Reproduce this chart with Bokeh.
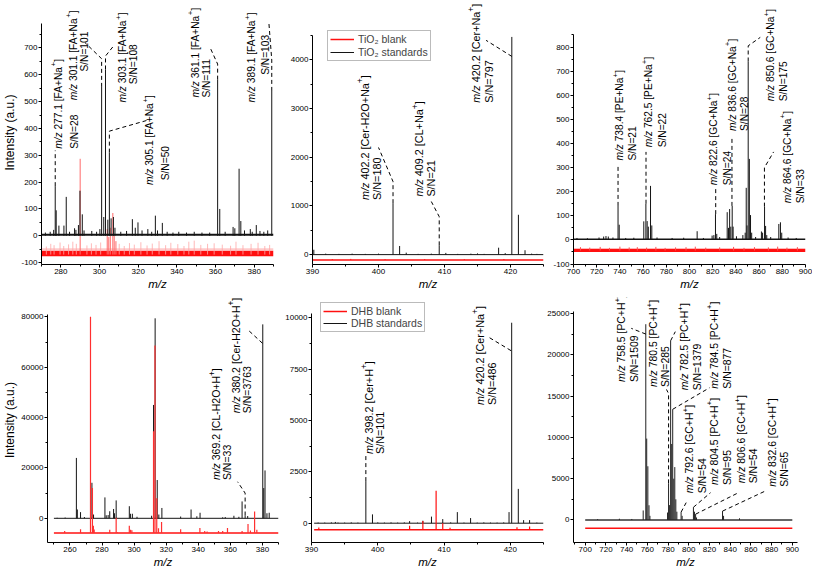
from bokeh.plotting import figure
from bokeh.models import Label, FixedTicker, Legend, LegendItem, NumeralTickFormatter, Range1d
from bokeh.layouts import row, column
from bokeh.embed import file_html
from bokeh.resources import INLINE

FONT = "Liberation Sans"
BLACK = "#141414"
RED = "#ff1010"
PINK = "#ffa8a8"

# ======================= DATA =======================
# ---- (A) TiO2, panel 1: m/z 270-390 ----
a1_span = [270, 390]
a1_mz = [272.0, 274.5, 276.3, 277.1, 277.6, 279.0, 281.6, 282.8, 284.5, 287.1, 287.8, 289.1, 289.9,
         291.1, 292.0, 296.0, 298.5, 300.2, 301.1, 302.2, 303.1, 304.3, 305.1, 306.0, 307.2, 308.0,
         311.0, 314.0, 317.0, 318.5, 319.9, 322.0, 325.0, 327.0, 328.9, 330.0, 332.5, 335.0, 338.0,
         341.0, 345.0, 349.0, 353.0, 357.0, 361.1, 362.2, 365.0, 369.1, 370.0, 372.2, 373.1, 375.0,
         378.0, 379.0, 381.1, 383.0, 385.0, 387.0, 389.1]
a1_int = [12, 15, 22, 185, 95, 38, 38, 145, 15, 28, 22, 40, 168, 80, 20, 18, 15, 25, 555, 70, 620,
          60, 310, 65, 70, 30, 15, 18, 62, 30, 50, 20, 25, 15, 75, 20, 48, 15, 12, 15, 12, 15, 12, 12,
          582, 100, 15, 33, 28, 250, 55, 20, 25, 15, 40, 18, 15, 20, 540]
a1_noise_top = 8
a1_red_band = [-76, -56]
a1_pink_band = [-56, -46]
a1_red_base = -70
a1_red_mz = [290.0, 304.0, 304.8, 305.6, 306.9, 307.6, 308.5]
a1_red_top = [287, 25, -5, 30, 85, 0, -20]
a1_pink_mz = [272.5, 274.8, 276.5, 279.6, 281.5, 284.0, 286.2, 288.0, 293.5, 295.8, 298.2, 300.6,
              310.2, 312.8, 315.5, 318.0, 321.4, 324.6, 327.3, 330.8, 334.2, 336.9, 340.5, 343.7,
              346.2, 349.0, 352.4, 355.9, 359.3, 363.5, 367.8, 370.6, 374.2, 378.4, 382.0, 385.5, 388.0]
a1_pink_top = [-40, -30, -35, -25, -38, -32, -22, -30, -36, -28, -34, -25, -30, -38, -27, -33, -24,
               -36, -29, -20, -35, -26, -31, -38, -22, -18, -34, -30, -28, -33, -37, -22, -35, -30,
               -26, -38, -34]
a1_ann_mz = [277.1, 301.1, 303.1, 305.1, 361.1, 389.1]
a1_ann_ion = ["FA+Na", "FA+Na", "FA+Na", "FA+Na", "FA+Na", "FA+Na"]
a1_ann_sn = ["28", "101", "108", "50", "111", "103"]

# ---- (A) TiO2, panel 2: m/z 390-425 ----
a2_span = [390, 425]
a2_mz = [390.2, 392.0, 394.0, 396.0, 398.0, 400.0, 402.2, 403.2, 404.2, 406.0, 408.0, 409.2, 410.2,
         412.0, 414.0, 415.0, 416.0, 418.2, 419.2, 420.2, 421.2, 422.2, 423.2, 424.0]
a2_int = [100, 20, 15, 20, 15, 20, 1056, 177, 40, 15, 20, 190, 35, 15, 20, 25, 15, 142, 30, 4470,
          818, 90, 20, 15]
a2_red_base = -110
a2_red_mz = [393.0, 395.8, 401.0, 407.0, 413.0, 419.0]
a2_red_top = [-92, -88, -95, -92, -94, -90]
a2_ann_mz = [402.2, 409.2, 420.2]
a2_ann_ion = ["Cer-H2O+Na", "CL+Na", "Cer+Na"]
a2_ann_sn = ["180", "21", "797"]

# ---- (A) TiO2, panel 3: m/z 700-900 ----
a3_span = [700, 900]
a3_mz = [703, 712, 722, 726, 728, 730, 734, 738.4, 739.4, 745, 752, 760.6, 762.4, 763.5, 764.5,
         766.4, 767.5, 772, 785, 795, 806.6, 812, 819.5, 821, 822.4, 823.5, 826, 832.5, 833.6,
         834.6, 835.6, 836.8, 837.6, 840.5, 846, 848, 848.9, 849.6, 850.6, 851.6, 852.6, 853.6,
         857, 862, 863, 864.7, 865.6, 866.6, 870, 877, 878.4, 879.5, 885, 892]
a3_int = [8, 7, 10, 14, 16, 14, 10, 141, 63, 8, 9, 77, 150, 78, 55, 224, 60, 10, 8, 9, 36, 8, 18,
          20, 107, 25, 12, 115, 50, 128, 55, 141, 55, 15, 20, 30, 216, 60, 740, 336, 103, 30, 12,
          35, 30, 138, 58, 20, 12, 66, 73, 30, 10, 8]
a3_noise_top = 6
a3_red_band = [-50, -38]
a3_pink_band = [-38, -34]
a3_red_base = -44
a3_pink_mz = [706, 714, 723, 731, 740, 748, 755, 763, 771, 779, 788, 797, 805, 814, 826, 838,
              847, 856, 868, 876, 884, 893]
a3_pink_top = [-30, -32, -29, -33, -28, -31, -30, -32, -29, -33, -31, -30, -28, -32, -31, -29,
               -33, -30, -31, -28, -32, -30]
a3_ann_mz = [738.4, 762.5, 822.6, 836.6, 850.6, 864.6]
a3_ann_ion = ["PE+Na", "PE+Na", "GC+Na", "GC+Na", "GC+Na", "GC+Na"]
a3_ann_sn = ["21", "22", "24", "28", "175", "33"]

# ---- (B) DHB, panel 1: m/z 250-390 ----
b1_span = [250, 390]
b1_mz = [252.0, 257.0, 264.0, 264.6, 266.6, 269.0, 273.7, 274.7, 281.8, 282.6, 283.8, 284.8, 287.2,
         287.8, 288.8, 297.0, 297.7, 298.9, 301.8, 310.9, 312.1, 313.1, 314.4, 315.4, 317.3, 329.0,
         335.5, 339.1, 341.1, 355.2, 356.8, 362.2, 365.3, 367.3, 369.2, 370.8, 380.2, 380.8, 381.6,
         382.8, 384.2]
b1_int = [200, 300, 23970, 3500, 2450, 500, 14100, 1500, 8300, 1200, 1300, 2800, 3700, 2000, 7100,
          4800, 1800, 1800, 600, 1000, 45000, 79400, 15200, 1500, 4100, 700, 3500, 800, 2200, 400,
          500, 1000, 600, 6700, 1100, 900, 77000, 12000, 19000, 2000, 2200]
b1_red_base = -5800
b1_red_mz = [256.7, 266.6, 272.8, 274.0, 274.6, 275.1, 284.8, 288.8, 289.6, 297.0, 297.8, 298.6,
             312.1, 313.0, 314.1, 315.2, 317.1, 329.0, 341.0, 344.0, 345.5, 352.6, 355.2, 358.2,
             367.3, 371.0, 372.5, 375.1, 376.5]
b1_red_top = [-5000, -4300, 80000, 12000, -3000, -4400, -4500, 230, -5500, -3000, -4500, -4700,
              34600, 68600, 8000, -4000, -1500, -4300, -3900, -5000, -5200, -5000, -5000, -3900,
              -5000, -2300, -4800, 2700, -4500]
b1_ann_mz = [369.2, 380.2]
b1_ann_ion = ["CL-H2O+H", "Cer-H2O+H"]
b1_ann_sn = ["33", "3763"]

# ---- (B) DHB, panel 2: m/z 390-425 ----
b2_span = [390.4, 425]
b2_mz = [391.0, 392.0, 393.0, 393.6, 394.0, 395.0, 396.0, 397.0, 398.2, 399.2, 400.0, 401.0, 402.0,
         403.0, 404.0, 404.8, 406.0, 406.8, 408.1, 409.8, 411.0, 412.0, 413.0, 414.0, 415.0, 416.0,
         417.0, 418.0, 419.0, 419.8, 420.2, 421.2, 422.0, 422.9, 424.0]
b2_int = [30, 30, 40, 60, 30, 30, 40, 30, 2050, 430, 40, 30, 40, 30, 40, 100, 30, 120, 320, 200,
          40, 540, 30, 250, 30, 40, 30, 30, 40, 540, 9760, 1670, 150, 150, 30]
b2_red_base = -320
b2_red_mz = [391.1, 404.8, 406.8, 408.8, 409.8, 410.9, 421.0, 422.9]
b2_red_top = [-210, -130, 110, 1575, 0, -220, -200, -160]
b2_ann_mz = [398.2, 420.2]
b2_ann_ion = ["Cer+H", "Cer+Na"]
b2_ann_sn = ["101", "486"]

# ---- (B) DHB, panel 3: m/z 700-900 ----
b3_span = [700, 900]
b3_mz = [712, 733, 745, 756.0, 758.5, 759.4, 760.5, 761.6, 762.5, 779.5, 780.5, 781.5, 782.5, 783.5,
         784.5, 785.5, 786.5, 787.5, 788.5, 792.6, 793.6, 804.5, 805.5, 806.6, 807.5, 832.6, 833.6,
         849.0]
b3_int = [100, 150, 120, 1150, 23700, 9850, 6500, 1780, 500, 900, 4430, 1800, 21700, 9200, 13400,
          5000, 6400, 2500, 1000, 950, 500, 1540, 1000, 700, 300, 1070, 500, 200]
b3_red_base = -1000
b3_ann_mz = [758.5, 780.5, 782.5, 784.5, 792.6, 804.5, 806.6, 832.6]
b3_ann_ion = ["PC+H", "PC+H", "PC+H", "PC+H", "GC+H", "PC+H", "GC+H", "GC+H"]
b3_ann_sn = ["1509", "285", "1379", "877", "54", "95", "54", "65"]

legend_a = ["TiO\u2082 blank", "TiO\u2082 standards"]
legend_b = ["DHB blank", "DHB standards"]

# ======================= LAYOUT (text placement) =======================
# (x line1, y line1 bottom, x line2, y line2 bottom) in data units, and leader kinks
a1_pos = [(278.6, 324, 286.9, 324), (286.4, 505, 292.4, 612), (311.8, 497, 317.5, 565),
          (326.1, 189, 333.9, 207), (349.4, 515, 355.5, 515), (378.8, 497, 385.7, 600)]
a1_lead = [[(277.1, None), (277.1, 318)], [(301.1, None), (301.1, 660), (292.5, 720)],
           [(303.1, None), (303.1, 670), (307.0, 705)], [(305.1, None), (305.1, 390), (324.5, 430)],
           [(361.1, None), (361.1, 640), (357.3, 700)], [(389.1, None), (389.1, 655), (387.6, 795)]]
a2_pos = [(397.9, 1123, 399.7, 1123), (406.2, 1191, 407.9, 1191), (414.7, 3120, 416.7, 3120)]
a2_lead = [[(402.2, None), (402.2, 1500), (400.0, 2200)], [(409.2, None), (409.2, 780), (408.0, 1090)],
           [(420.2, 4070), (416.3, 4400)]]
a3_pos = [(739.9, 329, 750.6, 329), (764.9, 384, 776.5, 384), (821.0, 227, 832.5, 227),
          (836.8, 452, 847.4, 452), (869.8, 575, 881.3, 575), (884.2, 152, 895.7, 152)]
a3_lead = [[(738.4, None), (738.4, 310)], [(762.5, None), (762.5, 365)], [(822.6, None), (822.6, 215)],
           [(836.6, None), (836.6, 420)], [(850.6, None), (850.6, 805), (861.0, 840)],
           [(864.6, None), (864.6, 300), (872.5, 365)]]
b1_pos = [(351.0, 15170, 358.1, 15170), (363.2, 41750, 370.2, 41750)]
b1_lead = [[(369.2, None), (369.2, 10000), (364.5, 14500)], [(380.0, 69500), (371.5, 74500)]]
b2_pos = [(398.6, 3370, 400.4, 3370), (415.4, 5760, 417.3, 5760)]
b2_lead = [[(398.2, None), (398.2, 3300)], [(420.1, 8400), (416.5, 9100)]]
b3_pos = [(735.3, 16700, 747.3, 16700), (766.2, 16100, 777.3, 16100), (796.2, 15700, 808.7, 15700),
          (824.5, 15900, 837.1, 15900), (800.9, 3240, 812.8, 3240), (824.5, 4230, 837.1, 4230),
          (851.3, 4430, 862.9, 4430), (881.2, 4030, 892.9, 4030)]
b3_lead = [[(758.6, 22500), (744.5, 23200)], [(780.5, None), (780.5, 15300), (778.5, 15800)],
           [(782.5, None), (787.0, 22800)], [(784.5, None), (820.0, 16000)],
           [(792.6, None), (797.5, 2100)], [(804.5, None), (821.0, 3300)],
           [(806.6, None), (848.0, 3300)], [(832.6, None), (873.0, 3450)]]

# Arial / Liberation Sans advance widths (per 1000 em)
W = {' ': 278, '.': 278, '[': 278, ']': 278, '+': 584, '=': 584, '-': 333, '/': 278,
     'A': 667, 'C': 722, 'E': 667, 'F': 611, 'G': 778, 'H': 722, 'L': 556, 'N': 722, 'O': 778,
     'P': 667, 'S': 667, 'a': 556, 'e': 556, 'r': 333, 'm': 833, 'z': 500}


def tw(s, fs):
    return sum(W.get(c, 556) for c in s) * fs / 1000.0


def peak_top(mzs, ints, m):
    i = min(range(len(mzs)), key=lambda k: abs(mzs[k] - m))
    return ints[i]


def make_fig(w, h, xr, yr, ml, mr, mt, mb, xt, xm, yt, ym, ybounds, ylabel=None):
    p = figure(width=w, height=h, x_range=Range1d(*xr), y_range=Range1d(*yr),
               output_backend="svg", toolbar_location=None,
               min_border_left=ml, min_border_right=mr, min_border_top=mt, min_border_bottom=mb)
    p.grid.visible = False
    p.outline_line_color = None
    p.background_fill_color = "white"
    p.border_fill_color = "white"
    for ax in (p.xaxis[0], p.yaxis[0]):
        ax.axis_line_color = "black"
        ax.axis_line_width = 1
        ax.major_tick_line_color = "black"
        ax.minor_tick_line_color = "black"
        ax.major_tick_in = 0
        ax.major_tick_out = 3
        ax.minor_tick_in = 0
        ax.minor_tick_out = 2
        ax.major_label_text_font = FONT
        ax.major_label_text_font_size = "8px"
        ax.major_label_text_color = "black"
        ax.major_label_standoff = 1
        ax.axis_label_text_font = FONT
        ax.axis_label_text_color = "black"
        ax.axis_label_standoff = 1
        ax.formatter = NumeralTickFormatter(format="0")
    p.xaxis.ticker = FixedTicker(ticks=xt, minor_ticks=xm)
    p.yaxis.ticker = FixedTicker(ticks=yt, minor_ticks=ym)
    p.yaxis.bounds = ybounds
    p.xaxis.axis_label = "m/z"
    p.xaxis.axis_label_text_font_style = "italic"
    p.xaxis.axis_label_text_font_size = "11.5px"
    if ylabel:
        p.yaxis.axis_label = ylabel
        p.yaxis.axis_label_text_font_style = "normal"
        p.yaxis.axis_label_text_font_size = "12px"
    return p


def sticks(p, mz, top, base, color, width=1.0, alpha=1.0):
    return p.segment(x0=mz, y0=[base] * len(mz), x1=mz, y1=top,
                     line_color=color, line_width=width, line_alpha=alpha)


def annotate(p, mzs, ints, m, ion, sn, pos, lead, fs):
    x1, y1, x2, y2 = pos
    lx, ly = [], []
    for (x, y) in lead:
        lx.append(x)
        ly.append(peak_top(mzs, ints, m) if y is None else y)
    p.line(lx, ly, line_color="black", line_width=1, line_dash="4 3")
    common = dict(angle=90, angle_units="deg", text_font=FONT, text_align="left",
                  text_baseline="middle", text_color="black")
    off = 0.0
    p.add_layout(Label(x=x1, y=y1, text="m/z", text_font_size=f"{fs}px",
                       text_font_style="italic", **common))
    off += tw("m/z ", fs)
    body = f"{m:.1f} [{ion}"
    p.add_layout(Label(x=x1, y=y1, text=body, text_font_size=f"{fs}px", y_offset=off, **common))
    off += tw(body, fs)
    fs2 = round(fs * 0.78, 1)
    p.add_layout(Label(x=x1, y=y1, text="+", text_font_size=f"{fs2}px", y_offset=off,
                       x_offset=-0.42 * fs, **common))
    off += tw("+", fs2)
    p.add_layout(Label(x=x1, y=y1, text="]", text_font_size=f"{fs}px", y_offset=off, **common))
    p.add_layout(Label(x=x2, y=y2, text="S/N=" + sn, text_font_size=f"{fs}px", **common))


def rng(a, b, s):
    out = []
    v = a
    while v <= b + 1e-9:
        out.append(v)
        v += s
    return out


# ======================= PANELS =======================
H1, H2 = 292, 278

# A1
a1 = make_fig(284, H1, (270, 390), (-107, 877), 40, 11, 0, 25,
              rng(280, 380, 20), rng(270, 390, 10), rng(-100, 700, 100), rng(-50, 750, 100),
              (-107, 790), ylabel="Intensity (a.u.)")
a1.varea(x=a1_span, y1=[a1_red_band[0]] * 2, y2=[a1_red_band[1]] * 2, fill_color=RED)
a1.varea(x=a1_span, y1=[a1_pink_band[0]] * 2, y2=[a1_pink_band[1]] * 2, fill_color=PINK, fill_alpha=0.6)
sticks(a1, a1_pink_mz, a1_pink_top, a1_red_base, PINK, 1, 0.8)
sticks(a1, a1_red_mz, a1_red_top, a1_red_base, "#ff6a6a", 1)
a1.varea(x=a1_span, y1=[0, 0], y2=[a1_noise_top] * 2, fill_color=BLACK)
sticks(a1, a1_mz, a1_int, 0, BLACK, 1)
for m, ion, sn, pos, ld in zip(a1_ann_mz, a1_ann_ion, a1_ann_sn, a1_pos, a1_lead):
    annotate(a1, a1_mz, a1_int, m, ion, sn, pos, ld, 10.2)
a1.add_layout(Label(x=270, y=877, x_offset=-18, y_offset=-18, text="(A)", text_font=FONT,
                    text_font_size="11px", text_align="left", text_baseline="top"))

# A2
a2 = make_fig(266, H1, (390, 425), (-203, 5218), 28, 7, 0, 25,
              [390, 400, 410, 420], [395, 405, 415, 425], rng(0, 4000, 1000), rng(500, 4500, 1000),
              (-203, 4500))
r_a2_red = a2.line(a2_span, [a2_red_base] * 2, line_color=RED, line_width=1.5)
sticks(a2, a2_red_mz, a2_red_top, a2_red_base, RED, 1)
r_a2_blk = a2.line(a2_span, [0, 0], line_color=BLACK, line_width=1)
sticks(a2, a2_mz, a2_int, 0, BLACK, 1)
for m, ion, sn, pos, ld in zip(a2_ann_mz, a2_ann_ion, a2_ann_sn, a2_pos, a2_lead):
    annotate(a2, a2_mz, a2_int, m, ion, sn, pos, ld, 10.8)
leg_a = Legend(items=[LegendItem(label=legend_a[0], renderers=[r_a2_red]),
                      LegendItem(label=legend_a[1], renderers=[r_a2_blk])],
               location=(15, 203), label_text_font=FONT, label_text_font_size="10.5px",
               glyph_width=24, glyph_height=12, label_height=12, label_standoff=4, spacing=1,
               padding=2, margin=0, border_line_color="#777777", border_line_width=1,
               background_fill_alpha=1)
a2.add_layout(leg_a)

# A3
a3 = make_fig(262, H1, (700, 900), (-102, 993), 23, 7, 0, 25,
              rng(700, 900, 20), rng(710, 890, 20), rng(-100, 800, 100), rng(-50, 850, 100),
              (-102, 850))
a3.varea(x=a3_span, y1=[a3_red_band[0]] * 2, y2=[a3_red_band[1]] * 2, fill_color=RED)
a3.varea(x=a3_span, y1=[a3_pink_band[0]] * 2, y2=[a3_pink_band[1]] * 2, fill_color=PINK, fill_alpha=0.8)
sticks(a3, a3_pink_mz, a3_pink_top, a3_red_base, "#ff5050", 1)
a3.varea(x=a3_span, y1=[0, 0], y2=[a3_noise_top] * 2, fill_color=BLACK)
sticks(a3, a3_mz, a3_int, 0, BLACK, 1)
for m, ion, sn, pos, ld in zip(a3_ann_mz, a3_ann_ion, a3_ann_sn, a3_pos, a3_lead):
    annotate(a3, a3_mz, a3_int, m, ion, sn, pos, ld, 10.2)

# B1
b1 = make_fig(279, H2, (246, 390), (-9610, 87670), 40, 1, 5, 23,
              rng(260, 380, 20), rng(250, 390, 20), rng(0, 80000, 20000), rng(-10000, 80000, 10000),
              (-9610, 81000), ylabel="Intensity (a.u.)")
b1.line(b1_span, [0, 0], line_color=BLACK, line_width=1)
sticks(b1, b1_mz, b1_int, 0, BLACK, 1)
b1.line(b1_span, [b1_red_base] * 2, line_color=RED, line_width=1.5)
sticks(b1, b1_red_mz, b1_red_top, b1_red_base, "#ff3030", 1.2)
for m, ion, sn, pos, ld in zip(b1_ann_mz, b1_ann_ion, b1_ann_sn, b1_pos, b1_lead):
    annotate(b1, b1_mz, b1_int, m, ion, sn, pos, ld, 10.5)
b1.add_layout(Label(x=246, y=87670, x_offset=-15, y_offset=0, text="(B)", text_font=FONT,
                    text_font_size="11px", text_align="left", text_baseline="top"))

# B2
b2 = make_fig(265, H2, (390, 425), (-940, 10988), 32, 1, 5, 23,
              [390, 400, 410, 420], [395, 405, 415, 425], rng(0, 10000, 2500), rng(1250, 8750, 2500),
              (-940, 10200))
r_b2_blk = b2.line(b2_span, [0, 0], line_color=BLACK, line_width=1)
sticks(b2, b2_mz, b2_int, 0, BLACK, 1)
r_b2_red = b2.line(b2_span, [b2_red_base] * 2, line_color=RED, line_width=1.5)
sticks(b2, b2_red_mz, b2_red_top, b2_red_base, RED, 1.2)
for m, ion, sn, pos, ld in zip(b2_ann_mz, b2_ann_ion, b2_ann_sn, b2_pos, b2_lead):
    annotate(b2, b2_mz, b2_int, m, ion, sn, pos, ld, 10.8)
leg_b = Legend(items=[LegendItem(label=legend_b[0], renderers=[r_b2_red]),
                      LegendItem(label=legend_b[1], renderers=[r_b2_blk])],
               location=(9, 210), label_text_font=FONT, label_text_font_size="10.5px",
               glyph_width=24, glyph_height=12, label_height=12, label_standoff=4, spacing=0,
               padding=2, margin=0, border_line_color="#777777", border_line_width=1,
               background_fill_alpha=1)
b2.add_layout(leg_b)

# B3
b3 = make_fig(268, H2, (688.7, 905), (-2729, 26934), 25, 15, 5, 23,
              rng(700, 900, 20), rng(690, 900, 10), rng(0, 25000, 5000), rng(2500, 22500, 5000),
              (-2729, 25200))
b3.line(b3_span, [0, 0], line_color="#333333", line_width=1.5)
sticks(b3, b3_mz, b3_int, 0, "#222222", 1)
b3.line(b3_span, [b3_red_base] * 2, line_color=RED, line_width=1.5)
for m, ion, sn, pos, ld in zip(b3_ann_mz, b3_ann_ion, b3_ann_sn, b3_pos, b3_lead):
    annotate(b3, b3_mz, b3_int, m, ion, sn, pos, ld, 10.4)

layout = column(row(a1, a2, a3), row(b1, b2, b3))
open("out.html", "w").write(file_html(layout, INLINE))
